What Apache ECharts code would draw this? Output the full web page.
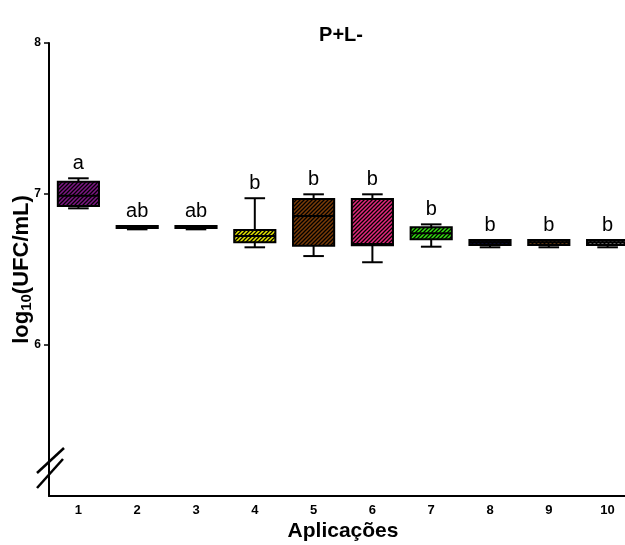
<!DOCTYPE html>
<html><head><meta charset="utf-8">
<script src="https://cdn.jsdelivr.net/npm/echarts@6/dist/echarts.min.js"></script>
<style>html,body{margin:0;padding:0;background:#fff}#c{width:625px;height:545px}</style>
</head><body><div id="c"></div>
<script>
// ---- data ----
const categories = ['1','2','3','4','5','6','7','8','9','10'];
const whiskerLow  = [6.905, 6.766, 6.766, 6.647, 6.589, 6.548, 6.651, 6.647, 6.647, 6.647];
const q1          = [6.921, 6.775, 6.775, 6.680, 6.658, 6.660, 6.700, 6.662, 6.662, 6.662];
const median      = [6.989, 6.780, 6.780, 6.722, 6.854, 6.669, 6.740, 6.680, 6.680, 6.680];
const q3          = [7.081, 6.788, 6.788, 6.762, 6.967, 6.967, 6.779, 6.695, 6.695, 6.695];
const whiskerHigh = [7.104, 6.788, 6.788, 6.972, 6.998, 6.998, 6.799, 6.695, 6.695, 6.695];
const letters     = ['a','ab','ab','b','b','b','b','b','b','b'];
const yTicks = [6, 7, 8];
const boxColors = ['#7d1784','#333333','#333333','#e6e600','#7a3c08','#e3287c','#35e012','#0c0c3a','#7a4a1e','#8a8a8a'];

// ---- layout ----
const gridLeft = 49, gridTop = 43, gridHeight = 453, gridWidth = 588;
const FONT = '"Liberation Sans", Arial, sans-serif';

function hatch(color) {
  const s = 4;
  const cv = document.createElement('canvas');
  cv.width = s; cv.height = s;
  const ctx = cv.getContext('2d');
  ctx.fillStyle = color; ctx.fillRect(0, 0, s, s);
  ctx.strokeStyle = '#000'; ctx.lineWidth = 1.3;
  ctx.beginPath();
  ctx.moveTo(0, s); ctx.lineTo(s, 0);
  ctx.moveTo(-1, 1); ctx.lineTo(1, -1);
  ctx.moveTo(s - 1, s + 1); ctx.lineTo(s + 1, s - 1);
  ctx.stroke();
  return { image: cv, repeat: 'repeat' };
}
const patterns = boxColors.map(hatch);

const seriesData = categories.map((c, i) => [i, whiskerLow[i], q1[i], median[i], q3[i], whiskerHigh[i]]);

function renderItem(params, api) {
  const idx = api.value(0);
  const lo = api.coord([idx, api.value(1)]);
  const b1 = api.coord([idx, api.value(2)]);
  const md = api.coord([idx, api.value(3)]);
  const b3 = api.coord([idx, api.value(4)]);
  const hi = api.coord([idx, api.value(5)]);
  const band = api.size([1, 0])[0];
  const bw = band * 0.70, cw = band * 0.35;
  const x = lo[0];
  const i = params.dataIndex;
  const ls = { stroke: '#000', lineWidth: 2 };
  return {
    type: 'group',
    children: [
      { type: 'line', shape: { x1: x, y1: hi[1], x2: x, y2: b3[1] }, style: ls },
      { type: 'line', shape: { x1: x, y1: b1[1], x2: x, y2: lo[1] }, style: ls },
      { type: 'line', shape: { x1: x - cw / 2, y1: hi[1], x2: x + cw / 2, y2: hi[1] }, style: ls },
      { type: 'line', shape: { x1: x - cw / 2, y1: lo[1], x2: x + cw / 2, y2: lo[1] }, style: ls },
      { type: 'rect', shape: { x: x - bw / 2, y: b3[1], width: bw, height: b1[1] - b3[1] },
        style: { fill: patterns[i], stroke: '#000', lineWidth: 2 } },
      { type: 'line', shape: { x1: x - bw / 2, y1: md[1], x2: x + bw / 2, y2: md[1] }, style: ls },
      { type: 'text', style: { text: letters[i], x: x, y: hi[1] - 5, align: 'center', verticalAlign: 'bottom',
        font: '20px ' + FONT, fill: '#000' } }
    ]
  };
}

const chart = echarts.init(document.getElementById('c'), null, { renderer: 'canvas' });
chart.setOption({
  animation: false,
  backgroundColor: '#fff',
  title: {
    text: 'P+L-', left: 336, top: 20, textAlign: 'center',
    textStyle: { fontFamily: FONT, fontWeight: 'bold', fontSize: 20, color: '#000' }
  },
  grid: { left: gridLeft, top: gridTop, width: gridWidth, height: gridHeight, outerBoundsMode: 'none', containLabel: false },
  xAxis: {
    type: 'category', data: categories, boundaryGap: true,
    name: 'Aplicações', nameLocation: 'middle', nameGap: 25, nameMoveOverlap: false,
    nameTextStyle: { fontFamily: FONT, fontWeight: 'bold', fontSize: 21, color: '#000' },
    axisLine: { lineStyle: { color: '#000', width: 2 } },
    axisTick: { alignWithLabel: true, length: 5, lineStyle: { color: '#000', width: 1.5 } },
    axisLabel: { margin: 8, fontFamily: FONT, fontWeight: 'bold', fontSize: 13, color: '#000' },
    splitLine: { show: false }
  },
  yAxis: {
    type: 'value', min: 5, max: 8, interval: 1,
    name: '{a|log}{s|10}{a|(UFC/mL)}', nameLocation: 'middle', nameGap: 15, nameMoveOverlap: false,
    nameTextStyle: {
      rich: {
        a: { fontFamily: FONT, fontWeight: 'bold', fontSize: 22, color: '#000' },
        s: { fontFamily: FONT, fontWeight: 'bold', fontSize: 15, color: '#000', padding: [10, 0, 0, 0] }
      }
    },
    axisLine: { show: true, lineStyle: { color: '#000', width: 2 } },
    axisTick: { show: true, length: 5, customValues: yTicks, lineStyle: { color: '#000', width: 1.5 } },
    axisLabel: { margin: 8, customValues: yTicks, fontFamily: FONT, fontWeight: 'bold', fontSize: 12, color: '#000' },
    splitLine: { show: false }
  },
  series: [{
    type: 'custom', renderItem: renderItem, data: seriesData,
    encode: { x: 0, y: [1, 2, 3, 4, 5] }, clip: false
  }],
  graphic: [
    { type: 'line', shape: { x1: gridLeft - 12, y1: gridTop + gridHeight - 23, x2: gridLeft + 15, y2: gridTop + gridHeight - 48 },
      style: { stroke: '#000', lineWidth: 2.5 } },
    { type: 'line', shape: { x1: gridLeft - 12, y1: gridTop + gridHeight - 8, x2: gridLeft + 14, y2: gridTop + gridHeight - 37 },
      style: { stroke: '#000', lineWidth: 2.5 } }
  ]
});
</script>
</body></html>
